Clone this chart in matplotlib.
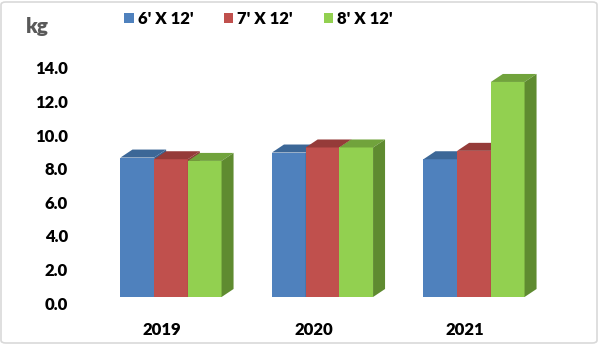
import matplotlib
matplotlib.use("Agg")
import matplotlib.pyplot as plt
from matplotlib.patches import Polygon, Patch, FancyBboxPatch
import matplotlib.transforms as mtransforms
from matplotlib import font_manager

# ---- data ----
years = ["2019", "2020", "2021"]
series_names = ["6' X 12'", "7' X 12'", "8' X 12'"]
size_6x12 = [8.3, 8.6, 8.2]
size_7x12 = [8.2, 8.9, 8.7]
size_8x12 = [8.1, 8.9, 12.8]
y_ticks = [0, 2, 4, 6, 8, 10, 12, 14]
unit_label = "kg"

series_values = [size_6x12, size_7x12, size_8x12]
front_colors = ["#4F81BD", "#C0504D", "#92D050"]
top_colors = ["#3C6797", "#953B39", "#71A33C"]
side_colors = ["#3A6391", "#8E3A38", "#5F8B30"]

FONT = "Lato"
WEIGHT = "heavy"
print(sorted({(f.name, f.weight) for f in font_manager.fontManager.ttflist if "Lato" in f.name}))
W, H, DPI = 600, 345, 100
px_x = 151.5   # pixels per category unit
px_y = 16.8    # pixels per value unit

fig = plt.figure(figsize=(W / DPI, H / DPI), dpi=DPI)
ax_left_px, ax_right_px = 75, 560
ax_bottom_px = 297  # from top
ymax = 14.5
ax = fig.add_axes([ax_left_px / W, (H - ax_bottom_px) / H,
                   (ax_right_px - ax_left_px) / W, ymax * px_y / H])
x0_px = 162
ax.set_xlim(-(x0_px - ax_left_px) / px_x, (ax_right_px - x0_px) / px_x)
ax.set_ylim(0, ymax)

w = 33.7 / px_x
group_shift = 9 / px_x
dx = 12 / px_x
dy = 8 / px_y

for j, (vals, fc, tc, sc) in enumerate(zip(series_values, front_colors, top_colors, side_colors)):
    lefts = [i + group_shift - 1.5 * w + j * w for i in range(len(years))]
    ax.bar(lefts, vals, width=w, align="edge", color=fc, edgecolor="none",
           zorder=3 * j + 1, label=series_names[j])
    for xl, v in zip(lefts, vals):
        top = Polygon([(xl, v), (xl + w, v), (xl + w + dx, v + dy), (xl + dx, v + dy)],
                      closed=True, facecolor=tc, edgecolor="none", zorder=3 * j + 2, clip_on=False)
        side = Polygon([(xl + w, 0), (xl + w + dx, dy), (xl + w + dx, v + dy), (xl + w, v)],
                       closed=True, facecolor=sc, edgecolor="none", zorder=3 * j + 3, clip_on=False)
        ax.add_patch(top)
        ax.add_patch(side)

for s in ax.spines.values():
    s.set_visible(False)

ax.set_yticks(y_ticks)
ax.set_yticklabels([f"{t:.1f}" for t in y_ticks], fontfamily=FONT, fontweight=WEIGHT,
                   fontsize=12, color="#000000")
ax.set_xticks(range(len(years)))
ax.set_xticklabels(years, fontfamily=FONT, fontweight=WEIGHT, fontsize=12, color="#000000")
ax.tick_params(axis="y", length=0, pad=5)
ax.tick_params(axis="x", length=0, pad=18)
offset = mtransforms.ScaledTranslation(0, -6 / DPI, fig.dpi_scale_trans)
for lab in ax.get_yticklabels():
    lab.set_transform(lab.get_transform() + offset)

fig.text(26 / W, 1 - 26 / H, unit_label, color="#595959", fontsize=15,
         fontfamily=FONT, fontweight=WEIGHT, va="center", ha="left")

handles = [Patch(facecolor=c, edgecolor="none") for c in front_colors]
fig.legend(handles, series_names, loc="center left", bbox_to_anchor=(116 / W, 1 - 19 / H),
           ncol=3, frameon=False, borderpad=0, handlelength=0.55, handleheight=0.55,
           handletextpad=0.25, columnspacing=1.85,
           prop={"family": FONT, "weight": WEIGHT, "size": 12})

border = FancyBboxPatch((1 / W, 2 / H), (W - 4) / W, (H - 4) / H, transform=fig.transFigure,
                        boxstyle="round,pad=0,rounding_size=0.008", facecolor="none",
                        edgecolor="#D9D9D9", linewidth=1.2)
fig.patches.append(border)

fig.savefig("out.png", dpi=DPI)
